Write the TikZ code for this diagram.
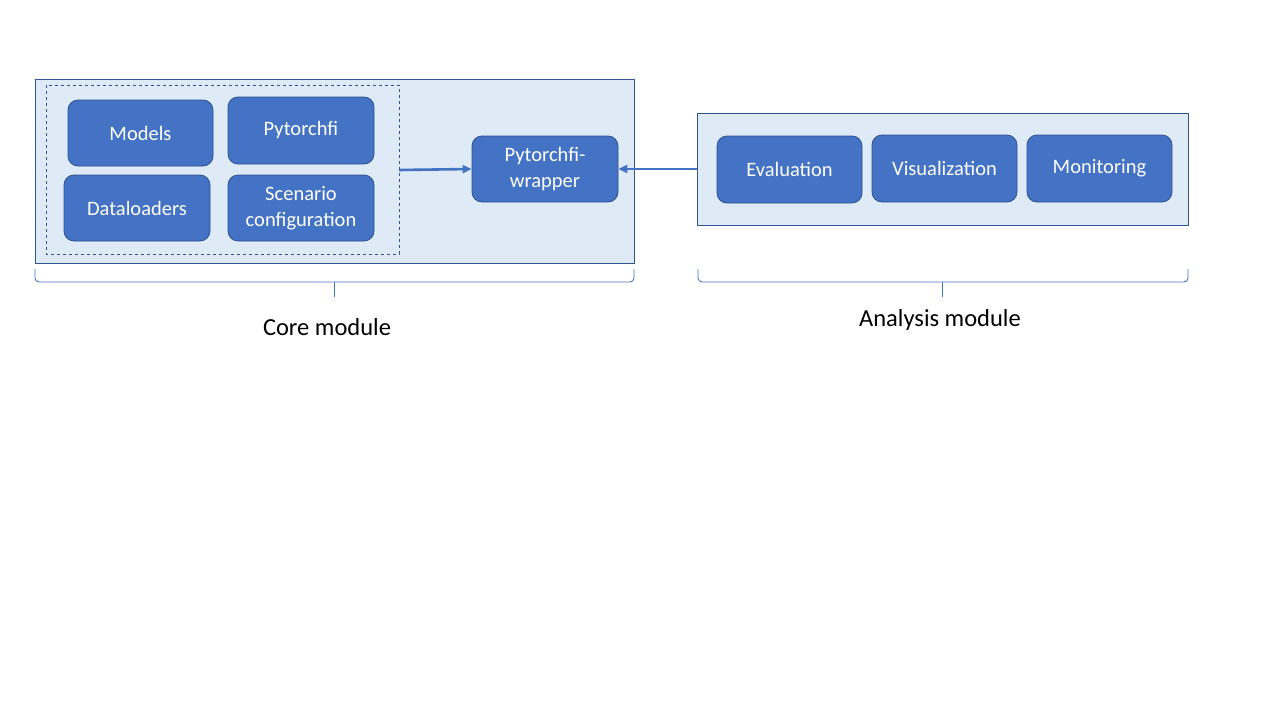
\documentclass[tikz,border=0pt]{standalone}
\usepackage{fontspec}
\setmainfont{Carlito}
\usetikzlibrary{arrows.meta}
\definecolor{boxfill}{HTML}{4472C4}
\definecolor{boxline}{HTML}{2F528F}
\definecolor{panel}{HTML}{DEEAF6}
\definecolor{panelline}{HTML}{2F5597}
\tikzset{
  x=1pt,y=-1pt,
  blk/.style={draw=boxline, line width=0.8pt, fill=boxfill, rounded corners=10pt, text=white, align=center, font=\fontsize{20.5}{25.5}\selectfont, inner sep=0pt},
  panelbox/.style={draw=panelline, line width=0.9pt, fill=panel},
  conn/.style={draw=boxfill, line width=2.6pt, -{Triangle[length=9pt,width=8pt]}},
  brc/.style={draw=boxfill, line width=0.9pt, rounded corners=4pt},
  lbl/.style={font=\fontsize{24.5}{29}\selectfont, text=black}
}
\begin{document}
\begin{tikzpicture}
\useasboundingbox (0,0) rectangle (1280,720);
% panels
\path[panelbox] (35,79) rectangle (634,263);
\draw[panelline, line width=0.7pt, dashed] (46,85) rectangle (399,254);
\path[panelbox] (697,113) rectangle (1188,225);
\coordinate (dashR) at (399,170);
\coordinate (anaL) at (697,169);
% core blocks
\node[blk, minimum width=145pt, minimum height=66pt] (models) at (140.5,133) {Models};
\node[blk, minimum width=146pt, minimum height=67pt] (pfi) at (301,130.5) {Pytorchfi};
\node[blk, minimum width=146pt, minimum height=66pt] (data) at (137,208) {Dataloaders};
\node[blk, minimum width=146pt, minimum height=66pt] (scen) at (301,208) {Scenario\\configuration};
\node[blk, minimum width=146pt, minimum height=66pt] (wrap) at (545,169) {Pytorchfi-\\wrapper};
% analysis blocks
\node[blk, minimum width=145pt, minimum height=67pt] (eval) at (789.5,169.5) {Evaluation};
\node[blk, minimum width=145pt, minimum height=67pt] (vis) at (944.5,168.5) {Visualization};
\node[blk, minimum width=145pt, minimum height=67pt] (mon) at (1099.5,168.5) {Monitoring};
% connectors
\draw[conn] (dashR) -- (wrap.west);
\draw[conn] (anaL) -- (wrap.east);
% braces
\draw[brc] (35,269) -- (35,282) -- (334,282);
\draw[brc] (634,269) -- (634,282) -- (334,282);
\draw[boxfill, line width=0.9pt] (334,282) -- (334,297);
\draw[brc] (698,269) -- (698,282) -- (942,282);
\draw[brc] (1188,269) -- (1188,282) -- (942,282);
\draw[boxfill, line width=0.9pt] (942,282) -- (942,297);
% labels
\node[lbl] (core) at (327,327) {Core module};
\node[lbl] (ana) at (940,320) {Analysis module};
\end{tikzpicture}
\end{document}
